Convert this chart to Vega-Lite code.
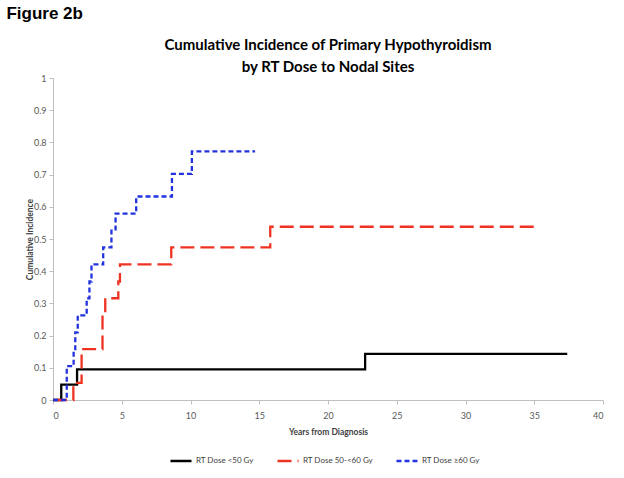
{
  "$schema": "https://vega.github.io/schema/vega-lite/v6.json",
  "background": "white",
  "padding": {"left": 6, "top": 5, "right": 5, "bottom": 5},
  "title": {"text": "Figure 2b", "anchor": "start", "frame": "bounds", "dx": -19, "font": "Liberation Sans", "fontSize": 17, "fontWeight": "bold", "color": "#000000", "offset": 15},
  "vconcat": [
    {
      "width": 550,
      "height": 322,
      "title": {"text": ["Cumulative Incidence of Primary Hypothyroidism", "by RT Dose to Nodal Sites"], "font": "Lato", "fontSize": 15, "fontWeight": "bold", "lineHeight": 22, "anchor": "middle", "color": "#000000", "offset": -1},
      "data": {"values": [
        {"group": "RT Dose <50 Gy", "years": 0, "incidence": 0},
        {"group": "RT Dose <50 Gy", "years": 0.6, "incidence": 0.048},
        {"group": "RT Dose <50 Gy", "years": 1.75, "incidence": 0.095},
        {"group": "RT Dose <50 Gy", "years": 22.7, "incidence": 0.143},
        {"group": "RT Dose <50 Gy", "years": 37.4, "incidence": 0.143},
        {"group": "RT Dose 50-<60 Gy", "years": 0, "incidence": 0},
        {"group": "RT Dose 50-<60 Gy", "years": 1.48, "incidence": 0.053},
        {"group": "RT Dose 50-<60 Gy", "years": 2.08, "incidence": 0.158},
        {"group": "RT Dose 50-<60 Gy", "years": 3.6, "incidence": 0.263},
        {"group": "RT Dose 50-<60 Gy", "years": 3.8, "incidence": 0.316},
        {"group": "RT Dose 50-<60 Gy", "years": 4.75, "incidence": 0.368},
        {"group": "RT Dose 50-<60 Gy", "years": 4.87, "incidence": 0.421},
        {"group": "RT Dose 50-<60 Gy", "years": 8.6, "incidence": 0.474},
        {"group": "RT Dose 50-<60 Gy", "years": 15.8, "incidence": 0.538},
        {"group": "RT Dose 50-<60 Gy", "years": 35.0, "incidence": 0.538},
        {"group": "RT Dose ≥60 Gy", "years": 0, "incidence": 0},
        {"group": "RT Dose ≥60 Gy", "years": 1.0, "incidence": 0.105},
        {"group": "RT Dose ≥60 Gy", "years": 1.5, "incidence": 0.158},
        {"group": "RT Dose ≥60 Gy", "years": 1.62, "incidence": 0.21},
        {"group": "RT Dose ≥60 Gy", "years": 1.8, "incidence": 0.263},
        {"group": "RT Dose ≥60 Gy", "years": 2.45, "incidence": 0.316},
        {"group": "RT Dose ≥60 Gy", "years": 2.65, "incidence": 0.368},
        {"group": "RT Dose ≥60 Gy", "years": 2.8, "incidence": 0.421},
        {"group": "RT Dose ≥60 Gy", "years": 3.65, "incidence": 0.474},
        {"group": "RT Dose ≥60 Gy", "years": 4.25, "incidence": 0.526},
        {"group": "RT Dose ≥60 Gy", "years": 4.55, "incidence": 0.579},
        {"group": "RT Dose ≥60 Gy", "years": 6.05, "incidence": 0.632},
        {"group": "RT Dose ≥60 Gy", "years": 8.65, "incidence": 0.702},
        {"group": "RT Dose ≥60 Gy", "years": 10.1, "incidence": 0.772},
        {"group": "RT Dose ≥60 Gy", "years": 14.7, "incidence": 0.772}
      ]},
      "mark": {"type": "line", "interpolate": "step-after", "strokeWidth": 2.3},
      "encoding": {
        "x": {"field": "years", "type": "quantitative", "scale": {"domain": [0, 40], "nice": false},
              "axis": {"title": "Years from Diagnosis", "values": [0, 5, 10, 15, 20, 25, 30, 35, 40], "format": "d", "labelPadding": 7, "titlePadding": 7}},
        "y": {"field": "incidence", "type": "quantitative", "scale": {"domain": [0, 1], "nice": false},
              "axis": {"title": "Cumulative Incidence", "values": [0, 0.1, 0.2, 0.3, 0.4, 0.5, 0.6, 0.7, 0.8, 0.9, 1], "format": "~g", "titlePadding": -1}},
        "color": {"field": "group", "type": "nominal", "title": null,
                  "scale": {"domain": ["RT Dose <50 Gy", "RT Dose 50-<60 Gy", "RT Dose ≥60 Gy"], "range": ["#000000", "#EE3322", "#2233DD"]},
                  "legend": {"orient": "none", "legendX": 116, "legendY": 371, "direction": "horizontal"}},
        "strokeDash": {"field": "group", "type": "nominal", "title": null,
                  "scale": {"domain": ["RT Dose <50 Gy", "RT Dose 50-<60 Gy", "RT Dose ≥60 Gy"], "range": [[1, 0], [14, 6], [5, 3]]},
                  "legend": {"orient": "none", "legendX": 116, "legendY": 371, "direction": "horizontal"}}
      }
    }
  ],
  "config": {
    "view": {"stroke": null},
    "axis": {"grid": false, "domainColor": "#BFBFBF", "tickColor": "#BFBFBF", "tickSize": 4,
             "labelColor": "#595959", "labelFont": "Lato", "labelFontSize": 9, "labelPadding": 3,
             "titleFont": "Lato", "titleFontSize": 8.5, "titleFontWeight": "bold", "titleColor": "#404040"},
    "legend": {"symbolType": "stroke", "symbolSize": 441, "symbolStrokeWidth": 2.3,
               "labelFont": "Lato", "labelFontSize": 8, "labelColor": "#404040", "labelOffset": 3,
               "columnPadding": 18, "gridAlign": "none"}
  }
}
